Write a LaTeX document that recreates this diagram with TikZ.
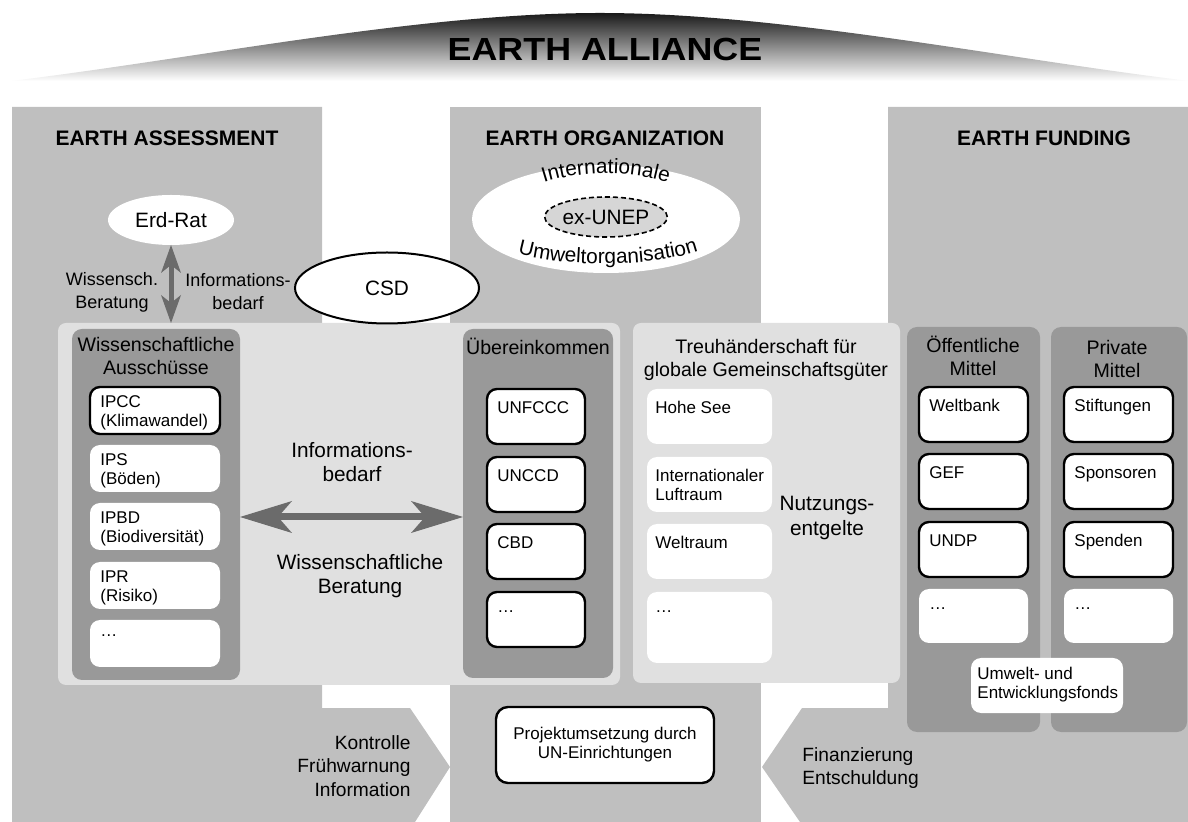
\documentclass[tikz,border=0pt]{standalone}
\usepackage{fontspec}
\setmainfont{Liberation Sans}
\usepackage{tikz}
\usetikzlibrary{arrows.meta, shapes.geometric, decorations.text}
\usepackage{xcolor}

\definecolor{columngray}{gray}{0.75}
\definecolor{panelgray}{gray}{0.88}
\definecolor{stackgray}{gray}{0.6}
\definecolor{arrowgray}{gray}{0.42}
\definecolor{unepgray}{gray}{0.84}

\newcommand{\cellfont}{\fontsize{8.5}{9.5}\selectfont}
\newcommand{\headfont}{\fontsize{9.8}{11.5}\selectfont}
\newcommand{\labelfont}{\fontsize{10.4}{12.2}\selectfont}
\newcommand{\sidefont}{\fontsize{9.6}{11.7}\selectfont}
\newcommand{\smalllabelfont}{\fontsize{9}{11.5}\selectfont}
\newcommand{\colfont}{\bfseries\fontsize{10.5}{12}\selectfont}

\tikzset{
  panel/.style={rectangle, rounded corners=4pt, fill=panelgray, anchor=north west, inner sep=0pt, outer sep=0pt},
  stack/.style={rectangle, rounded corners=5pt, fill=stackgray, anchor=north west, inner sep=0pt, outer sep=0pt},
  cell/.style={rectangle, rounded corners=5pt, fill=white, anchor=north west, inner sep=0pt, outer sep=0pt},
  framed/.style={draw=black, line width=1.2pt},
  celltext/.style={anchor=north west, align=left, inner xsep=5pt, inner ysep=6pt, font=\cellfont},
  oval/.style={ellipse, fill=white, inner sep=0pt, outer sep=0pt},
  txt/.style={inner sep=0pt, align=center},
  bigarrow/.style={draw=arrowgray, line width=3.5pt, {Stealth[length=26pt,width=16pt,inset=7pt,line width=0pt]}-{Stealth[length=26pt,width=16pt,inset=7pt,line width=0pt]}},
  smallarrow/.style={draw=arrowgray, line width=2.5pt, {Stealth[length=14pt,width=10pt,inset=4pt,line width=0pt]}-{Stealth[length=14pt,width=10pt,inset=4pt,line width=0pt]}}
}

\begin{document}
\begin{tikzpicture}[x=0.5pt,y=0.5pt,yscale=-1,xscale=1]
\useasboundingbox (0,0) rectangle (1188,822);

%Shape: Dome
\shade[top color=black!90, bottom color=white] (11,81) .. controls (200,58) and (420,13) .. (600,13) .. controls (780,13) and (1000,58) .. (1189,81) -- cycle ;
% Text Node
\node[txt] (alliance) at (605,49) {\scalebox{1.12}[1]{\bfseries\fontsize{16}{19}\selectfont EARTH ALLIANCE}};

%Shape: Columns
\fill[columngray] (12,107) -- (322,107) -- (322,708) -- (410,708) -- (450,767) -- (415,822) -- (12,822) -- cycle ;
\fill[columngray] (450,107) rectangle (761,822) ;
\fill[columngray] (888,107) -- (1188,107) -- (1188,822) -- (800,822) -- (762,767) -- (802,708) -- (888,708) -- cycle ;

% Text Node
\node[txt, font=\colfont] (assess) at (167,138) {EARTH ASSESSMENT};
\node[txt, font=\colfont] (orga) at (605,138) {EARTH ORGANIZATION};
\node[txt, font=\colfont] (funding) at (1044,138) {EARTH FUNDING};

%Shape: Ellipses
\node[oval, minimum width=63pt, minimum height=25pt, font=\labelfont] (erdrat) at (171,220) {Erd-Rat};
\node[oval, minimum width=134pt, minimum height=54pt] (umweltorg) at (606,219) {};
\node[ellipse, draw, dash pattern=on 2.5pt off 1.5pt, line width=0.8pt, fill=unepgray, minimum width=61pt, minimum height=20pt, inner sep=0pt, font=\labelfont] (exunep) at (606,217) {ex-UNEP};
\path[decorate, decoration={text along path, text={|\labelfont|Internationale}, text align=center}] (540,184) .. controls (580,170) and (632,170) .. (672,184) ;
\path[decorate, decoration={text along path, text={|\labelfont|Umweltorganisation}, text align=center}] (512,252) .. controls (560,268) and (656,268) .. (704,249) ;

%Shape: Panels
\node[panel, minimum width=281pt, minimum height=181pt] (wisspanel) at (58,323) {};
\node[panel, minimum width=133.5pt, minimum height=180pt] (treupanel) at (633,323) {};
\node[stack, minimum width=84pt, minimum height=175.5pt] (ausschuesse) at (72,329) {};
\node[stack, minimum width=75pt, minimum height=174.5pt] (uebereink) at (463,329) {};
\node[stack, minimum width=66.5pt, minimum height=202.5pt] (oeffentlich) at (907,327) {};
\node[stack, minimum width=68pt, minimum height=202.5pt] (privat) at (1051,327) {};

% Text Node
\node[txt, anchor=north, font=\headfont] (ausschuesse-t) at (156,337) {Wissenschaftliche\\Ausschüsse};
\node[txt, anchor=north, font=\headfont] (uebereink-t) at (538,338) {Übereinkommen};
\node[txt, anchor=north, font=\headfont] (treupanel-t) at (766,339) {Treuhänderschaft für\\globale Gemeinschaftsgüter};
\node[txt, anchor=north, font=\headfont] (oeffentlich-t) at (973,336) {Öffentliche\\Mittel};
\node[txt, anchor=north, font=\headfont] (privat-t) at (1117,339.5) {Private\\Mittel};

%Shape: Cells Ausschuesse
\node[cell, framed, minimum width=65pt, minimum height=23.5pt] (ipcc) at (90,387) {};
\node[celltext, inner ysep=4pt] (ipcc-t) at (ipcc.north west) {IPCC\\(Klimawandel)};
\node[cell, minimum width=65pt, minimum height=23.5pt] (ips) at (90,445) {};
\node[celltext, inner ysep=4pt] (ips-t) at (ips.north west) {IPS\\(Böden)};
\node[cell, minimum width=65pt, minimum height=23.5pt] (ipbd) at (90,503) {};
\node[celltext, inner ysep=4pt] (ipbd-t) at (ipbd.north west) {IPBD\\(Biodiversität)};
\node[cell, minimum width=65pt, minimum height=23.5pt] (ipr) at (90,562) {};
\node[celltext, inner ysep=4pt] (ipr-t) at (ipr.north west) {IPR\\(Risiko)};
\node[cell, minimum width=65pt, minimum height=23.5pt] (wissdots) at (90,620) {};
\node[celltext, inner ysep=7pt] (wissdots-t) at (wissdots.north west) {\dots};

%Shape: Cells Uebereinkommen
\node[cell, framed, minimum width=49pt, minimum height=27.5pt] (unfccc) at (487,389) {};
\node[celltext] (unfccc-t) at (unfccc.north west) {UNFCCC};
\node[cell, framed, minimum width=49pt, minimum height=27.5pt] (unccd) at (487,457) {};
\node[celltext] (unccd-t) at (unccd.north west) {UNCCD};
\node[cell, framed, minimum width=49pt, minimum height=27.5pt] (cbd) at (487,524) {};
\node[celltext] (cbd-t) at (cbd.north west) {CBD};
\node[cell, framed, minimum width=49pt, minimum height=27.5pt] (uebdots) at (487,592) {};
\node[celltext, inner ysep=9pt] (uebdots-t) at (uebdots.north west) {\dots};

%Shape: Cells Treuhaenderschaft
\node[cell, minimum width=62.5pt, minimum height=27.5pt] (hohesee) at (647,389) {};
\node[celltext, inner xsep=4pt] (hohesee-t) at (hohesee.north west) {Hohe See};
\node[cell, minimum width=62.5pt, minimum height=27.5pt] (luftraum) at (647,457) {};
\node[celltext, inner xsep=4pt] (luftraum-t) at (luftraum.north west) {Internationaler\\Luftraum};
\node[cell, minimum width=62.5pt, minimum height=27.5pt] (weltraum) at (647,524) {};
\node[celltext, inner xsep=4pt] (weltraum-t) at (weltraum.north west) {Weltraum};
\node[cell, minimum width=62.5pt, minimum height=35.5pt] (treudots) at (647,592) {};
\node[celltext, inner xsep=4pt, inner ysep=9pt] (treudots-t) at (treudots.north west) {\dots};
% Text Node
\node[txt, anchor=north, font=\labelfont] (nutzung) at (827,496) {Nutzungs-\\entgelte};

%Shape: Cells Oeffentliche Mittel
\node[cell, framed, minimum width=54.5pt, minimum height=27.5pt] (weltbank) at (919,387) {};
\node[celltext] (weltbank-t) at (weltbank.north west) {Weltbank};
\node[cell, framed, minimum width=54.5pt, minimum height=27.5pt] (gef) at (919,454) {};
\node[celltext] (gef-t) at (gef.north west) {GEF};
\node[cell, framed, minimum width=54.5pt, minimum height=27.5pt] (undp) at (919,522) {};
\node[celltext] (undp-t) at (undp.north west) {UNDP};
\node[cell, minimum width=54.5pt, minimum height=27pt] (oeffdots) at (919,589) {};
\node[celltext, inner ysep=9pt] (oeffdots-t) at (oeffdots.north west) {\dots};

%Shape: Cells Private Mittel
\node[cell, framed, minimum width=54.5pt, minimum height=27.5pt] (stiftungen) at (1064,387) {};
\node[celltext] (stiftungen-t) at (stiftungen.north west) {Stiftungen};
\node[cell, framed, minimum width=54.5pt, minimum height=27.5pt] (sponsoren) at (1064,454) {};
\node[celltext] (sponsoren-t) at (sponsoren.north west) {Sponsoren};
\node[cell, framed, minimum width=54.5pt, minimum height=27.5pt] (spenden) at (1064,522) {};
\node[celltext] (spenden-t) at (spenden.north west) {Spenden};
\node[cell, minimum width=54.5pt, minimum height=27pt] (privdots) at (1064,589) {};
\node[celltext, inner ysep=9pt] (privdots-t) at (privdots.north west) {\dots};

\node[cell, minimum width=76pt, minimum height=27.5pt] (fonds) at (971,658) {};
\node[celltext, inner xsep=3pt, inner ysep=4.5pt] (fonds-t) at (fonds.north west) {Umwelt- und\\Entwicklungsfonds};

%Shape: CSD
\node[oval, draw, line width=1pt, minimum width=92pt, minimum height=35.5pt, font=\labelfont] (csd) at (387,288) {CSD};

%Straight Lines
\coordinate (infolevel) at (0,517);
\draw[bigarrow] (ausschuesse.east |- infolevel) -- (uebereink.west |- infolevel) ;
\draw[smallarrow] (erdrat.south) -- (erdrat.south |- wisspanel.north) ;

% Text Node
\node[txt, font=\smalllabelfont] (beratung-l) at (112,292) {Wissensch.\\Beratung};
\node[txt, font=\smalllabelfont] (bedarf-l) at (238,292) {Informations-\\bedarf};
\node[txt, anchor=north, font=\labelfont] (bedarf-m) at (352,442) {Informations-\\bedarf};
\node[txt, anchor=north, font=\labelfont] (beratung-m) at (360,554) {Wissenschaftliche\\Beratung};

%Shape: Projektumsetzung
\node[rectangle, rounded corners=6pt, framed, fill=white, minimum width=109pt, minimum height=38pt, align=center, font=\cellfont] (projekt) at (605,745) {Projektumsetzung durch\\UN-Einrichtungen};

% Text Node
\node[txt, anchor=north east, align=right, font=\sidefont] (kontrolle) at (411,735) {Kontrolle\\Frühwarnung\\Information};
\node[txt, anchor=north west, align=left, font=\sidefont] (finanz) at (802,747) {Finanzierung\\Entschuldung};

\end{tikzpicture}
\end{document}
